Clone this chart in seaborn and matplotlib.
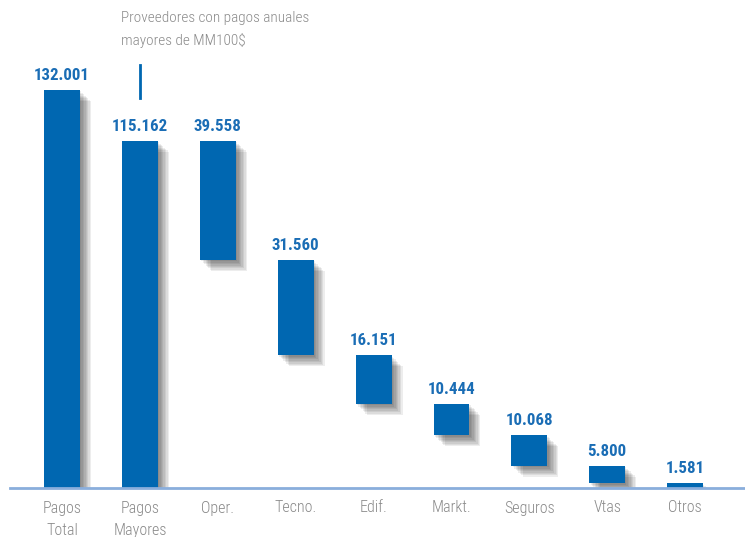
import pandas as pd
from matplotlib import pyplot as plt
from matplotlib import patheffects as pe
import seaborn as sns

# Datos
categorias = ["Pagos\nTotal", "Pagos\nMayores", "Oper.", "Tecno.", "Edif.",
              "Markt.", "Seguros", "Vtas", "Otros"]
valores = [132001, 115162, 39558, 31560, 16151, 10444, 10068, 5800, 1581]
nota = "Proveedores con pagos anuales\nmayores de MM100$"

# base de cada barra (cascada desde Pagos Mayores)
bases = [0, 0]
tope = valores[1]
for v in valores[2:]:
    tope = tope - v
    bases.append(tope)

df = pd.DataFrame({"categoria": categorias, "valor": valores, "base": bases})

plt.rcParams["font.family"] = ["Roboto Condensed", "DejaVu Sans"]

azul = "#0067b1"
gris = "#8a8a8a"

fig = plt.figure(figsize=(7.45, 5.37), dpi=100)
ax = fig.add_axes([10 / 745, 49 / 537, 735 / 745, 488 / 537])

sns.barplot(data=df, x="categoria", y="valor", bottom=df["base"], color=azul,
            saturation=1, width=0.46, ax=ax)

# sombra difusa
sombra = [pe.SimplePatchShadow(offset=(o, -o), shadow_rgbFace="black", alpha=0.07)
          for o in range(1, 9)]
for barra in ax.patches:
    barra.set_path_effects(sombra + [pe.Normal()])

etiquetas = [f"{v:,}".replace(",", ".") for v in valores]
ax.bar_label(ax.containers[0], labels=etiquetas, padding=5, color="#1a6db5",
             fontsize=12.2, fontweight="bold")

ax.set_xlim(-0.67, 8.77)
ax.set_ylim(0, 161850)
ax.set_yticks([])
ax.set_xlabel("")
ax.set_ylabel("")
sns.despine(ax=ax, left=True)
ax.spines["bottom"].set_color("#8aaedc")
ax.spines["bottom"].set_linewidth(2)
ax.tick_params(axis="x", length=0, pad=9, labelsize=11.5, labelcolor=gris)
for t in ax.get_xticklabels():
    t.set_linespacing(1.65)
    t.set_fontweight(300)
    t.set_verticalalignment("top")

# nota
ax.axvline(1, ymin=0.799, ymax=0.867, color=azul, linewidth=2)
fig.text(121 / 745, 1 - 11 / 537, nota, va="top", ha="left", fontsize=11,
         color=gris, linespacing=1.65, fontweight=300)

fig.savefig("out.png", dpi=100)
